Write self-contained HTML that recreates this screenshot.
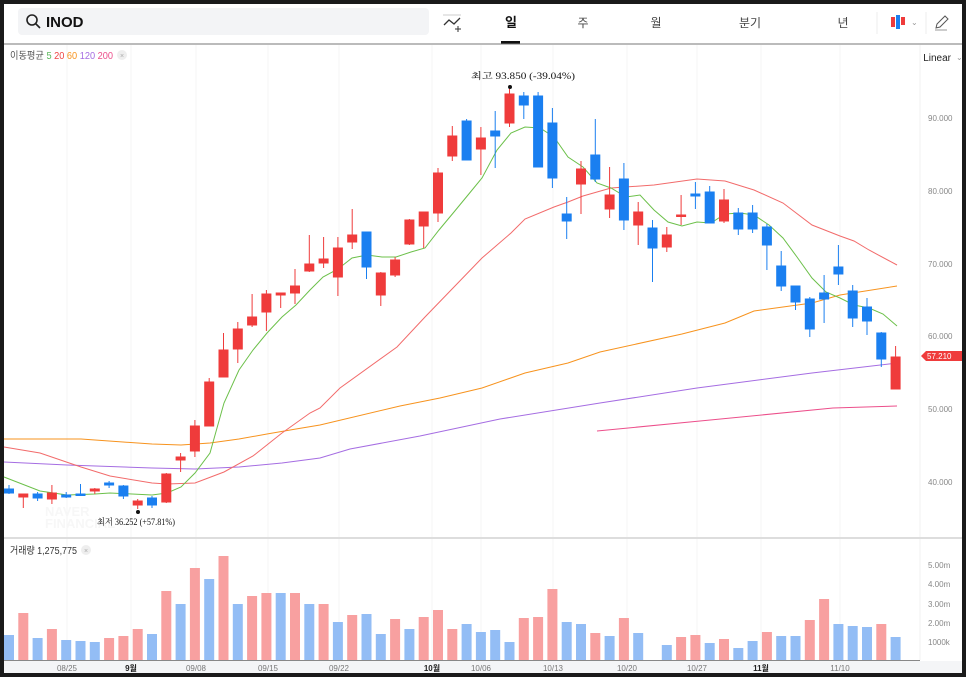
<!DOCTYPE html>
<html><head><meta charset="utf-8"><style>
html,body{margin:0;padding:0;background:#1a1a1a;}
body{width:966px;height:677px;overflow:hidden;position:relative;font-family:"Liberation Sans","Noto Sans CJK KR",sans-serif;}
</style></head><body>
<svg width="966" height="677" viewBox="0 0 966 677" xmlns="http://www.w3.org/2000/svg" style="position:absolute;left:0;top:0" font-family="Liberation Sans, Noto Sans CJK KR, sans-serif">
<rect x="4" y="4" width="958" height="669" fill="#fff"/>
<!-- top bar -->
<rect x="18" y="8" width="411" height="27" rx="4" fill="#f3f4f6"/>
<circle cx="32" cy="20" r="5" fill="none" stroke="#222" stroke-width="1.6"/>
<line x1="36" y1="24" x2="40" y2="28" stroke="#222" stroke-width="1.6"/>
<text x="46" y="27" font-size="15" font-weight="bold" fill="#111">INOD</text>
<line x1="443" y1="15" x2="461" y2="15" stroke="#ccc"/>
<polyline points="444,25 449,20 454,24 460,18" fill="none" stroke="#333" stroke-width="1.3"/>
<line x1="455" y1="29" x2="461" y2="29" stroke="#333"/><line x1="458" y1="26" x2="458" y2="32" stroke="#333"/>
<text x="511" y="27" font-size="13" font-weight="bold" fill="#111" text-anchor="middle">일</text>
<rect x="501" y="41" width="19" height="3" fill="#111"/>
<text x="583" y="27" font-size="12" fill="#444" text-anchor="middle">주</text>
<text x="656" y="27" font-size="12" fill="#444" text-anchor="middle">월</text>
<text x="750" y="27" font-size="12" fill="#444" text-anchor="middle">분기</text>
<text x="843" y="27" font-size="12" fill="#444" text-anchor="middle">년</text>
<line x1="877" y1="12" x2="877" y2="34" stroke="#eee"/>
<rect x="891" y="17" width="4" height="10" fill="#ef3b3b"/><rect x="896" y="15" width="4" height="14" fill="#1a7ff0"/><rect x="901" y="17" width="4" height="8" fill="#ef3b3b"/>
<text x="911" y="25" font-size="8" fill="#999">⌄</text>
<line x1="926" y1="12" x2="926" y2="34" stroke="#eee"/>
<path d="M936 28 L937 24 L945 16 L948 19 L940 27 Z" fill="none" stroke="#555" stroke-width="1"/>
<line x1="935" y1="30" x2="947" y2="30" stroke="#999"/>
<line x1="4" y1="44" x2="962" y2="44" stroke="#777" stroke-width="1"/>
<!-- grid -->
<g stroke="#f5f5f5">
<line x1="67" y1="45" x2="67" y2="660"/><line x1="131" y1="45" x2="131" y2="660"/><line x1="196" y1="45" x2="196" y2="660"/><line x1="268" y1="45" x2="268" y2="660"/><line x1="339" y1="45" x2="339" y2="660"/><line x1="432" y1="45" x2="432" y2="660"/><line x1="481" y1="45" x2="481" y2="660"/><line x1="553" y1="45" x2="553" y2="660"/><line x1="627" y1="45" x2="627" y2="660"/><line x1="697" y1="45" x2="697" y2="660"/><line x1="761" y1="45" x2="761" y2="660"/><line x1="840" y1="45" x2="840" y2="660"/>
</g>
<line x1="920" y1="45" x2="920" y2="660" stroke="#f0f0f0"/>
<line x1="4" y1="538" x2="962" y2="538" stroke="#ddd" stroke-width="2"/>
<!-- legend -->
<text x="10" y="59" font-size="10" fill="#555" textLength="103" lengthAdjust="spacingAndGlyphs">이동평균 <tspan fill="#5cb85c">5</tspan> <tspan fill="#ef4444">20</tspan> <tspan fill="#f7931e">60</tspan> <tspan fill="#a56de2">120</tspan> <tspan fill="#ec4f8b">200</tspan></text>
<circle cx="122" cy="55" r="5" fill="#eee"/><text x="122" y="58" font-size="7" fill="#aaa" text-anchor="middle">×</text>
<text x="951" y="61" font-size="10" fill="#222" text-anchor="end">Linear</text><text x="956" y="60" font-size="8" fill="#999">⌄</text>
<!-- y axis -->
<g font-size="8" fill="#888">
<text x="928" y="121">90.000</text><text x="928" y="194">80.000</text><text x="928" y="267">70.000</text><text x="928" y="339">60.000</text><text x="928" y="412">50.000</text><text x="928" y="485">40.000</text>
<text x="928" y="568">5.00m</text><text x="928" y="587">4.00m</text><text x="928" y="607">3.00m</text><text x="928" y="626">2.00m</text><text x="928" y="645">1000k</text>
</g>
<path d="M921 356 L926 351 L962 351 L962 361 L926 361 Z" fill="#ef3b3b"/>
<text x="927" y="359" font-size="8" fill="#fff">57.210</text>
<!-- watermark -->
<text x="45" y="516" font-size="13" font-weight="bold" fill="#f7f7f7">NAVER</text>
<text x="45" y="528" font-size="13" font-weight="bold" fill="#f7f7f7">FINANCIAL</text>
<!-- MA lines -->
<polyline fill="none" stroke="#ec4f8b" stroke-width="1" points="597,431 700,421 833,408 897,406"/>
<polyline fill="none" stroke="#a56de2" stroke-width="1" points="4,462 67,465 152,468 195,469 239,467 282,463 320,458 350,449 420,436 500,419 600,403 697,388 812,373 897,363"/>
<polyline fill="none" stroke="#f7931e" stroke-width="1" points="4,439 81,439 123,442 152,444 181,445 210,443 239,439 267,434 296,429 320,425 400,406 440,398 482,388 525,373 568,363 600,352 682,334 725,323 754,311 812,303 840,295 897,286"/>
<polyline fill="none" stroke="#f26b6b" stroke-width="1" points="4,447 40,453 81,467 110,476 152,483 167,484 195,483 224,472 253,456 282,433 310,413 320,408 340,388 397,347 425,317 454,287 482,258 511,233 525,219 554,207 568,202 583,196 611,188 654,185 697,179 725,181 754,190 783,203 812,225 840,236 854,241 869,250 897,265"/>
<polyline fill="none" stroke="#6cc04a" stroke-width="1" points="4,477 40,491 67,495 95,494 110,493 152,495 167,493 181,487 195,473 210,453 224,403 239,370 253,350 267,333 282,317 296,305 310,290 323,277 338,269 352,258 367,255 382,257 396,257 411,252 425,248 439,230 454,212 468,195 482,178 497,150 511,133 525,127 540,128 554,137 568,157 583,167 597,183 611,188 626,197 640,195 654,210 668,222 682,226 697,222 711,223 725,214 740,213 754,215 769,225 783,238 797,257 812,278 826,292 840,298 854,305 869,308 883,314 897,326"/>
<!-- candles -->
<g stroke-width="1">
<g stroke="#1a7ff0" fill="#1a7ff0">
<line x1="9" y1="485" x2="9" y2="494"/><rect x="4.5" y="489" width="9" height="4"/>
<line x1="37.6" y1="492" x2="37.6" y2="501"/><rect x="33.1" y="494" width="9" height="4"/>
<line x1="66.2" y1="492" x2="66.2" y2="498"/><rect x="61.7" y="495" width="9" height="2"/>
<line x1="80.5" y1="484" x2="80.5" y2="495"/><rect x="76" y="494" width="9" height="1.5"/>
<line x1="109.1" y1="481" x2="109.1" y2="488"/><rect x="104.6" y="483" width="9" height="2"/>
<line x1="123.4" y1="485" x2="123.4" y2="499"/><rect x="118.9" y="486" width="9" height="10"/>
<line x1="152" y1="496" x2="152" y2="508"/><rect x="147.5" y="498" width="9" height="7"/>
<line x1="366.5" y1="232" x2="366.5" y2="279"/><rect x="362" y="232" width="9" height="35"/>
<line x1="466.6" y1="119" x2="466.6" y2="160"/><rect x="462.1" y="121" width="9" height="39"/>
<line x1="495.2" y1="111" x2="495.2" y2="168"/><rect x="490.7" y="131" width="9" height="5"/>
<line x1="523.8" y1="92" x2="523.8" y2="119"/><rect x="519.3" y="96" width="9" height="9"/>
<line x1="538.1" y1="92" x2="538.1" y2="167"/><rect x="533.6" y="96" width="9" height="71"/>
<line x1="552.4" y1="108" x2="552.4" y2="188"/><rect x="547.9" y="123" width="9" height="55"/>
<line x1="566.7" y1="197" x2="566.7" y2="239"/><rect x="562.2" y="214" width="9" height="7"/>
<line x1="595.3" y1="119" x2="595.3" y2="182"/><rect x="590.8" y="155" width="9" height="24"/>
<line x1="623.9" y1="163" x2="623.9" y2="230"/><rect x="619.4" y="179" width="9" height="41"/>
<line x1="652.5" y1="220" x2="652.5" y2="282"/><rect x="648" y="228" width="9" height="20"/>
<line x1="695.4" y1="182" x2="695.4" y2="209"/><rect x="690.9" y="194" width="9" height="2"/>
<line x1="709.7" y1="186" x2="709.7" y2="223"/><rect x="705.2" y="192" width="9" height="31"/>
<line x1="738.3" y1="208" x2="738.3" y2="235"/><rect x="733.8" y="213" width="9" height="16"/>
<line x1="752.6" y1="205" x2="752.6" y2="233"/><rect x="748.1" y="213" width="9" height="16"/>
<line x1="766.9" y1="224" x2="766.9" y2="270"/><rect x="762.4" y="227" width="9" height="18"/>
<line x1="781.2" y1="251" x2="781.2" y2="291"/><rect x="776.7" y="266" width="9" height="20"/>
<line x1="795.5" y1="286" x2="795.5" y2="310"/><rect x="791" y="286" width="9" height="16"/>
<line x1="809.8" y1="297" x2="809.8" y2="337"/><rect x="805.3" y="299" width="9" height="30"/>
<line x1="824.1" y1="275" x2="824.1" y2="323"/><rect x="819.6" y="293" width="9" height="6"/>
<line x1="838.4" y1="245" x2="838.4" y2="285"/><rect x="833.9" y="267" width="9" height="7"/>
<line x1="852.7" y1="285" x2="852.7" y2="327"/><rect x="848.2" y="291" width="9" height="27"/>
<line x1="867" y1="298" x2="867" y2="335"/><rect x="862.5" y="307" width="9" height="14"/>
<line x1="881.3" y1="332" x2="881.3" y2="367"/><rect x="876.8" y="333" width="9" height="26"/>
</g>
<g stroke="#ef3b3b" fill="#ef3b3b">
<line x1="23.3" y1="494" x2="23.3" y2="508"/><rect x="18.8" y="494" width="9" height="3"/>
<line x1="51.9" y1="485" x2="51.9" y2="504"/><rect x="47.4" y="493" width="9" height="6"/>
<line x1="94.8" y1="488" x2="94.8" y2="494"/><rect x="90.3" y="489" width="9" height="2"/>
<line x1="137.7" y1="499" x2="137.7" y2="509"/><rect x="133.2" y="501" width="9" height="4"/>
<line x1="166.3" y1="473" x2="166.3" y2="503"/><rect x="161.8" y="474" width="9" height="28"/>
<line x1="180.6" y1="453" x2="180.6" y2="472"/><rect x="176.1" y="457" width="9" height="3"/>
<line x1="194.9" y1="420" x2="194.9" y2="457"/><rect x="190.4" y="426" width="9" height="25"/>
<line x1="209.2" y1="378" x2="209.2" y2="426"/><rect x="204.7" y="382" width="9" height="44"/>
<line x1="223.5" y1="333" x2="223.5" y2="377"/><rect x="219" y="350" width="9" height="27"/>
<line x1="237.8" y1="322" x2="237.8" y2="363"/><rect x="233.3" y="329" width="9" height="20"/>
<line x1="252.1" y1="294" x2="252.1" y2="327"/><rect x="247.6" y="317" width="9" height="8"/>
<line x1="266.4" y1="290" x2="266.4" y2="331"/><rect x="261.9" y="294" width="9" height="18"/>
<line x1="280.7" y1="293" x2="280.7" y2="308"/><rect x="276.2" y="293" width="9" height="2"/>
<line x1="295" y1="269" x2="295" y2="304"/><rect x="290.5" y="286" width="9" height="7"/>
<line x1="309.3" y1="235" x2="309.3" y2="272"/><rect x="304.8" y="264" width="9" height="7"/>
<line x1="323.6" y1="237" x2="323.6" y2="268"/><rect x="319.1" y="259" width="9" height="4"/>
<line x1="337.9" y1="237" x2="337.9" y2="296"/><rect x="333.4" y="248" width="9" height="29"/>
<line x1="352.2" y1="209" x2="352.2" y2="249"/><rect x="347.7" y="235" width="9" height="7"/>
<line x1="380.8" y1="272" x2="380.8" y2="306"/><rect x="376.3" y="273" width="9" height="22"/>
<line x1="395.1" y1="257" x2="395.1" y2="277"/><rect x="390.6" y="260" width="9" height="15"/>
<line x1="409.4" y1="219" x2="409.4" y2="245"/><rect x="404.9" y="220" width="9" height="24"/>
<line x1="423.7" y1="212" x2="423.7" y2="248"/><rect x="419.2" y="212" width="9" height="14"/>
<line x1="438" y1="168" x2="438" y2="222"/><rect x="433.5" y="173" width="9" height="40"/>
<line x1="452.3" y1="126" x2="452.3" y2="161"/><rect x="447.8" y="136" width="9" height="20"/>
<line x1="480.9" y1="127" x2="480.9" y2="175"/><rect x="476.4" y="138" width="9" height="11"/>
<line x1="509.5" y1="89" x2="509.5" y2="127"/><rect x="505" y="94" width="9" height="29"/>
<line x1="581" y1="161" x2="581" y2="214"/><rect x="576.5" y="169" width="9" height="15"/>
<line x1="609.6" y1="167" x2="609.6" y2="218"/><rect x="605.1" y="195" width="9" height="14"/>
<line x1="638.2" y1="202" x2="638.2" y2="245"/><rect x="633.7" y="212" width="9" height="13"/>
<line x1="666.8" y1="227" x2="666.8" y2="252"/><rect x="662.3" y="235" width="9" height="12"/>
<line x1="681.1" y1="195" x2="681.1" y2="225"/><rect x="676.6" y="215" width="9" height="1.5"/>
<line x1="724" y1="189" x2="724" y2="223"/><rect x="719.5" y="200" width="9" height="21"/>
<line x1="895.6" y1="346" x2="895.6" y2="389"/><rect x="891.1" y="357" width="9" height="32"/>
</g>
</g>
<!-- annotations -->
<circle cx="510" cy="87" r="2" fill="#111"/>
<text x="471" y="79" font-size="9" fill="#111" font-family="Liberation Serif, Noto Serif CJK SC, serif" textLength="104" lengthAdjust="spacingAndGlyphs">최고  93.850 (-39.04%)</text>
<circle cx="138" cy="512" r="2" fill="#111"/>
<text x="97" y="525" font-size="9" fill="#111" font-family="Liberation Serif, Noto Serif CJK SC, serif" textLength="78" lengthAdjust="spacingAndGlyphs">최저  36.252 (+57.81%)</text>
<!-- volume -->
<text x="10" y="554" font-size="10" fill="#333" textLength="67" lengthAdjust="spacingAndGlyphs">거래량 1,275,775</text>
<circle cx="86" cy="550" r="5" fill="#eee"/><text x="86" y="553" font-size="7" fill="#aaa" text-anchor="middle">×</text>
<g fill="#93bdf5">
<rect x="4" y="635" width="10" height="25"/><rect x="32.6" y="638" width="10" height="22"/><rect x="61.2" y="640" width="10" height="20"/><rect x="75.5" y="641" width="10" height="19"/><rect x="89.8" y="642" width="10" height="18"/><rect x="147" y="634" width="10" height="26"/><rect x="175.6" y="604" width="10" height="56"/><rect x="204.2" y="579" width="10" height="81"/><rect x="232.8" y="604" width="10" height="56"/><rect x="275.7" y="593" width="10" height="67"/><rect x="304.3" y="604" width="10" height="56"/><rect x="332.9" y="622" width="10" height="38"/><rect x="361.5" y="614" width="10" height="46"/><rect x="375.8" y="634" width="10" height="26"/><rect x="404.4" y="629" width="10" height="31"/><rect x="461.6" y="624" width="10" height="36"/><rect x="475.9" y="632" width="10" height="28"/><rect x="490.2" y="630" width="10" height="30"/><rect x="504.5" y="642" width="10" height="18"/><rect x="561.7" y="622" width="10" height="38"/><rect x="576" y="624" width="10" height="36"/><rect x="604.6" y="636" width="10" height="24"/><rect x="633.2" y="633" width="10" height="27"/><rect x="661.8" y="645" width="10" height="15"/><rect x="704.7" y="643" width="10" height="17"/><rect x="733.3" y="648" width="10" height="12"/><rect x="747.6" y="641" width="10" height="19"/><rect x="776.2" y="636" width="10" height="24"/><rect x="790.5" y="636" width="10" height="24"/><rect x="833.4" y="624" width="10" height="36"/><rect x="847.7" y="626" width="10" height="34"/><rect x="862" y="627" width="10" height="33"/><rect x="890.6" y="637" width="10" height="23"/>
</g>
<g fill="#f8a0a0">
<rect x="18.3" y="613" width="10" height="47"/><rect x="46.9" y="629" width="10" height="31"/><rect x="104.1" y="638" width="10" height="22"/><rect x="118.4" y="636" width="10" height="24"/><rect x="132.7" y="629" width="10" height="31"/><rect x="161.3" y="591" width="10" height="69"/><rect x="189.9" y="568" width="10" height="92"/><rect x="218.5" y="556" width="10" height="104"/><rect x="247.1" y="596" width="10" height="64"/><rect x="261.4" y="593" width="10" height="67"/><rect x="290" y="593" width="10" height="67"/><rect x="318.6" y="604" width="10" height="56"/><rect x="347.2" y="615" width="10" height="45"/><rect x="390.1" y="619" width="10" height="41"/><rect x="418.7" y="617" width="10" height="43"/><rect x="433" y="610" width="10" height="50"/><rect x="447.3" y="629" width="10" height="31"/><rect x="518.8" y="618" width="10" height="42"/><rect x="533.1" y="617" width="10" height="43"/><rect x="547.4" y="589" width="10" height="71"/><rect x="590.3" y="633" width="10" height="27"/><rect x="618.9" y="618" width="10" height="42"/><rect x="676.1" y="637" width="10" height="23"/><rect x="690.4" y="635" width="10" height="25"/><rect x="719" y="639" width="10" height="21"/><rect x="761.9" y="632" width="10" height="28"/><rect x="804.8" y="620" width="10" height="40"/><rect x="819.1" y="599" width="10" height="61"/><rect x="876.3" y="624" width="10" height="36"/>
</g>
<!-- x axis -->
<rect x="4" y="661" width="958" height="12" fill="#f4f5f7"/>
<line x1="4" y1="660.5" x2="920" y2="660.5" stroke="#888"/>
<g font-size="8" fill="#777" text-anchor="middle">
<text x="67" y="671">08/25</text><text x="131" y="671" font-weight="bold" fill="#222">9월</text><text x="196" y="671">09/08</text><text x="268" y="671">09/15</text><text x="339" y="671">09/22</text><text x="432" y="671" font-weight="bold" fill="#222">10월</text><text x="481" y="671">10/06</text><text x="553" y="671">10/13</text><text x="627" y="671">10/20</text><text x="697" y="671">10/27</text><text x="761" y="671" font-weight="bold" fill="#222">11월</text><text x="840" y="671">11/10</text>
</g>
</svg>
</body></html>
